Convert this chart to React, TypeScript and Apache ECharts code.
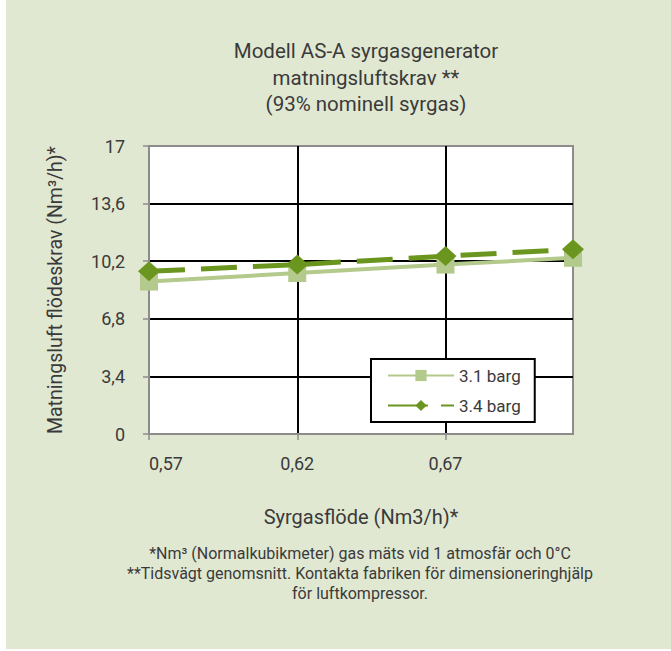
import React, { useEffect, useRef } from "react";
import * as echarts from "echarts";

const titleLines = ["Modell AS-A syrgasgenerator", "matningsluftskrav **", "(93% nominell syrgas)"];
const flowX = [0.57, 0.62, 0.67, 0.713];
const xTickStep = 0.05;
const seriesNames = ["3.1 barg", "3.4 barg"];
const values31 = [9.0, 9.5, 10.0, 10.4];
const values34 = [9.6, 10.0, 10.5, 10.9];
const yMax = 17;
const yStep = 3.4;
const xAxisName = "Syrgasflöde (Nm3/h)*";
const yAxisName = "Matningsluft flödeskrav (Nm³/h)*";
const footnotes = [
  "*Nm³ (Normalkubikmeter) gas mäts vid 1 atmosfär och 0°C",
  "**Tidsvägt genomsnitt. Kontakta fabriken för dimensioneringhjälp",
  "för luftkompressor.",
];

const FONT = "Roboto";
const TEXT = "#3a3a3a";
const LIGHT = "#b4c98c";
const DARK = "#6a961f";

export default function App() {
  const ref = useRef<HTMLDivElement>(null);
  useEffect(() => {
    if (!ref.current) return;
    const chart = echarts.init(ref.current, null, { renderer: "svg" });
    const x0 = flowX[0];
    const fmtComma = (v: number, d: number) => v.toFixed(d).replace(".", ",");
    chart.setOption({
      animation: false,
      textStyle: { fontFamily: FONT },
      title: {
        text: titleLines.join("\n"),
        left: 361,
        top: 33,
        textAlign: "center",
        textStyle: { fontFamily: FONT, fontSize: 20.5, fontWeight: "normal", color: TEXT, lineHeight: 26.5 },
      },
      graphic: [
        {
          type: "rect",
          z: -10,
          silent: true,
          shape: { x: 6, y: 0, width: 665, height: 649 },
          style: { fill: "#e1e8d2" },
        },
        {
          type: "text",
          x: 360,
          y: 543,
          style: {
            text: footnotes.join("\n"),
            fontFamily: FONT,
            fontSize: 16,
            lineHeight: 20,
            fill: TEXT,
            align: "center",
            verticalAlign: "top",
          },
        },
      ],
      grid: {
        left: 149,
        right: 98,
        top: 146,
        bottom: 217,
        show: true,
        backgroundColor: "#ffffff",
        borderColor: "#8c8c8c",
        borderWidth: 2,
      },
      legend: {
        left: 371,
        top: 359,
        orient: "vertical",
        data: [
          { name: seriesNames[0] },
          { name: seriesNames[1], lineStyle: { type: [40, 13] } },
        ],
        backgroundColor: "#ffffff",
        borderColor: "#000000",
        borderWidth: 2,
        borderRadius: 0,
        padding: [8, 14, 8, 16],
        itemGap: 13,
        itemWidth: 66,
        itemHeight: 14,
        textStyle: { fontFamily: FONT, fontSize: 17, color: TEXT },
      },
      xAxis: {
        type: "value",
        min: 0,
        max: flowX[flowX.length - 1] - x0,
        interval: xTickStep,
        name: xAxisName,
        nameLocation: "middle",
        nameGap: 73,
        nameTextStyle: { fontFamily: FONT, fontSize: 20, color: TEXT },
        axisLine: { show: true, onZero: false, lineStyle: { color: "#8c8c8c", width: 2 } },
        axisTick: { show: true, length: 6, lineStyle: { color: "#8c8c8c", width: 1.5 } },
        axisLabel: {
          margin: 20,
          fontFamily: FONT,
          fontSize: 18,
          color: TEXT,
          showMaxLabel: false,
          alignMinLabel: "left",
          formatter: (v: number) => fmtComma(v + x0, 2),
        },
        splitLine: { show: true, showMinLine: false, showMaxLine: false, lineStyle: { color: "#000000", width: 2 } },
      },
      yAxis: {
        type: "value",
        min: 0,
        max: yMax,
        interval: yStep,
        name: yAxisName,
        nameLocation: "middle",
        nameRotate: 90,
        nameGap: 84,
        nameTextStyle: { fontFamily: FONT, fontSize: 19.5, color: TEXT },
        axisLine: { show: true, lineStyle: { color: "#8c8c8c", width: 2 } },
        axisTick: { show: true, length: 6, lineStyle: { color: "#8c8c8c", width: 1.5 } },
        axisLabel: {
          margin: 24,
          fontFamily: FONT,
          fontSize: 18,
          color: TEXT,
          formatter: (v: number) => String(+v.toFixed(1)).replace(".", ","),
        },
        splitLine: { show: true, showMinLine: false, showMaxLine: false, lineStyle: { color: "#000000", width: 2 } },
      },
      series: [
        {
          name: seriesNames[0],
          type: "line",
          data: flowX.map((x, i) => [x - x0, values31[i]]),
          symbol: "rect",
          symbolSize: 18,
          itemStyle: { color: LIGHT },
          lineStyle: { color: LIGHT, width: 4 },
          z: 3,
        },
        {
          name: seriesNames[1],
          type: "line",
          data: flowX.map((x, i) => [x - x0, values34[i]]),
          symbol: "diamond",
          symbolSize: [22, 20],
          itemStyle: { color: DARK },
          lineStyle: { color: DARK, width: 5, type: [36, 16] },
          z: 4,
        },
      ],
    });
    return () => chart.dispose();
  }, []);
  return (
    <div
      ref={ref}
      style={{ position: "absolute", left: 0, top: 0, width: 671, height: 651, background: "#ffffff" }}
    />
  );
}
